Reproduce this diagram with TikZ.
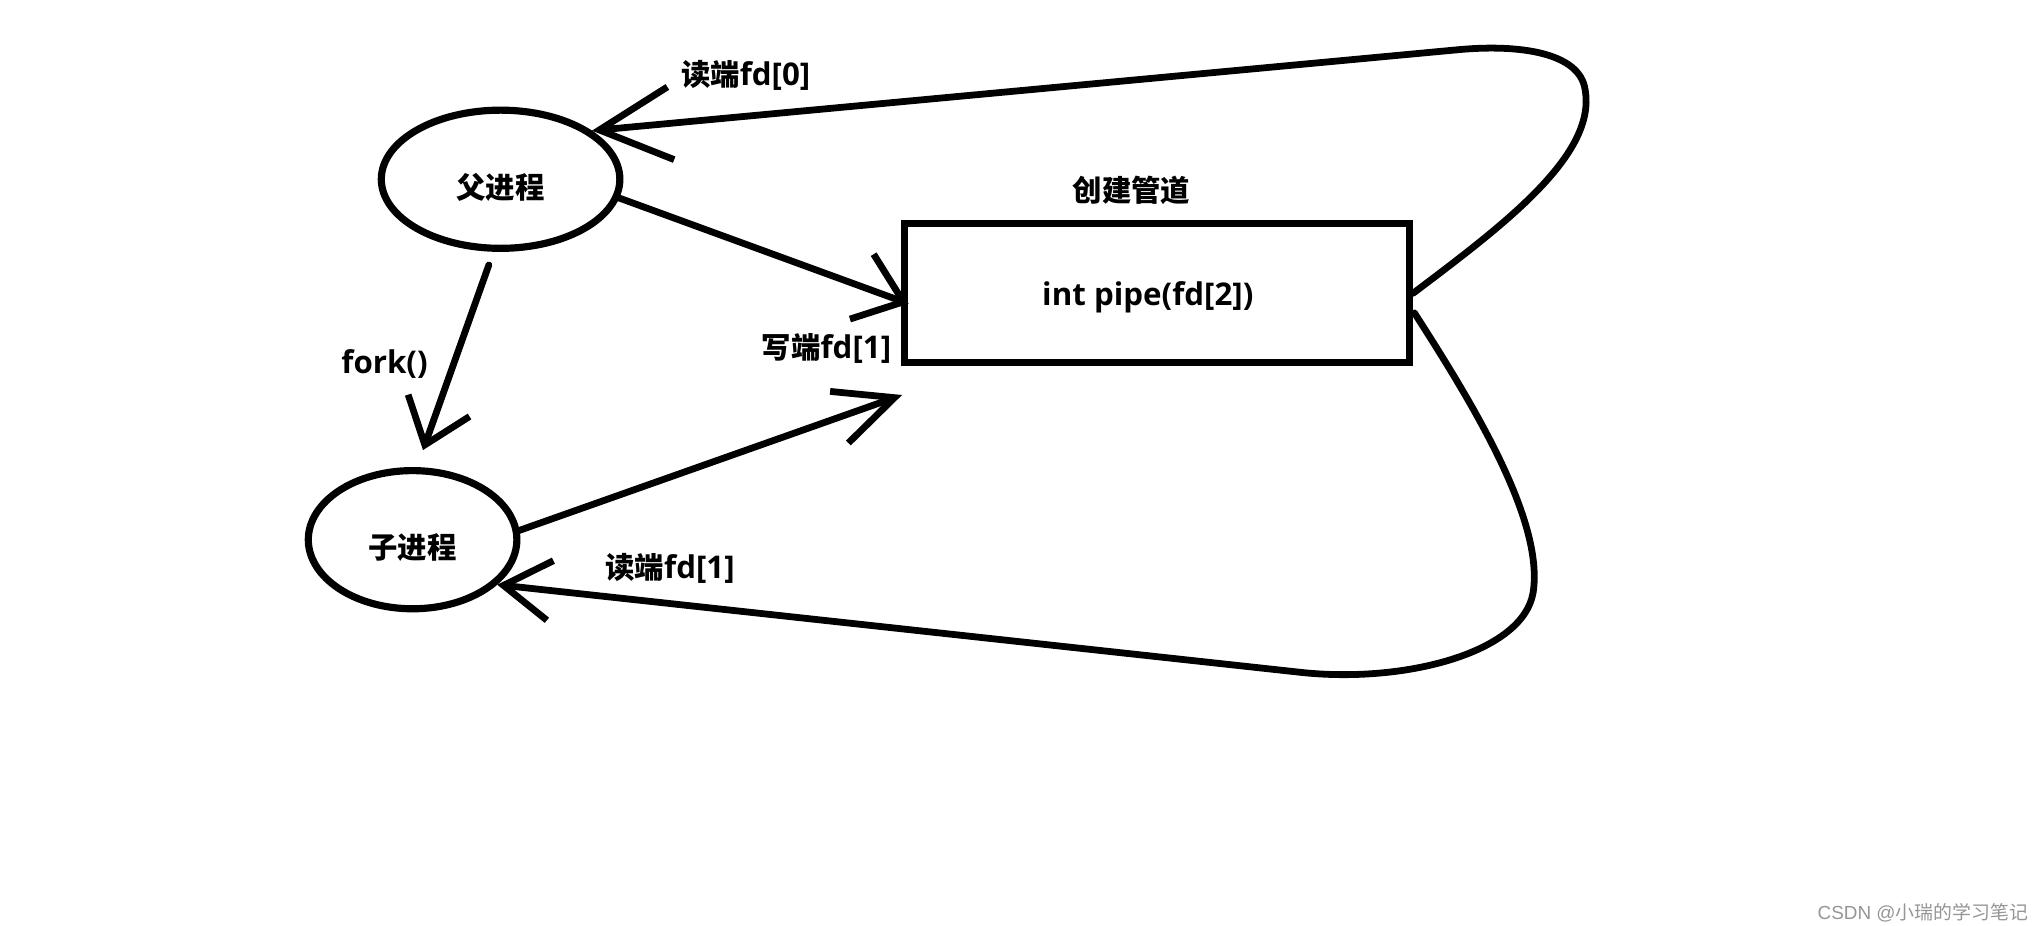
\documentclass[tikz,border=0pt]{standalone}
\usepackage{fontspec}
\setmainfont{Open Sans}
\newfontfamily\cjk{Noto Sans CJK SC}[Scale=0.94]
\newfontfamily\wmcjk{Noto Sans CJK SC}
\newfontfamily\wmlat{Liberation Sans}
\usetikzlibrary{arrows.meta,shapes.geometric,calc}
\definecolor{wmgray}{RGB}{150,150,150}
\begin{document}
\begin{tikzpicture}[x=1pt,y=-1pt,
  txt/.style={inner sep=0pt, font=\fontsize{24}{28}\selectfont\bfseries},
  proc/.style={draw, ellipse, line width=5.5pt, inner sep=0pt},
  pipebox/.style={draw, rectangle, line width=5.5pt, minimum width=387.5pt, minimum height=106.5pt, inner sep=0pt},
  conn/.style={line width=5.2pt, line cap=round, line join=round},
  barb/.style 2 args={-{Straight Barb[length=#1pt,width=#2pt]}},
  wm/.style={inner sep=0pt, text=wmgray, font=\fontsize{14.5}{16}\selectfont}
]
\fill[white] (0,0) rectangle (1568,710);
\useasboundingbox (0,0) rectangle (1568,710);

\node[proc, minimum width=183pt, minimum height=106pt,
      label={[txt,yshift=-6pt]center:{\cjk 父进程}}] (parent) at (384,137.5) {};
\node[proc, minimum width=160pt, minimum height=106pt,
      label={[txt,yshift=-6pt]center:{\cjk 子进程}}] (child) at (316.5,414) {};
\node[pipebox, label={[txt,xshift=-7pt,yshift=-3pt]center:int pipe(fd[2])}] (pipe) at (887.5,225) {};

\node[txt] (title) at (868,146) {\cjk 创建管道};
\node[txt] (lr0) at (572,57.5) {{\cjk 读端}fd[0]};
\node[txt] (fork) at (295,279) {fork()};
\node[txt] (lw1) at (634,267) {{\cjk 写端}fd[1]};
\node[txt] (lr1) at (514,436) {{\cjk 读端}fd[1]};
\node[wm] (wmark) at (1475,700) {{\wmlat CSDN @}{\wmcjk 小瑞的学习笔记}};

% fork
\draw[conn, barb={32}{50}] ($(parent.south)+(-9,10)$) -- ($(child.north)+(8,-13)$);
% parent -> pipe (write end)
\draw[conn, barb={34}{53}] (parent.-9) -- ($(pipe.west)+(6,8)$);
% child -> pipe
\draw[conn, barb={45}{42}] (child.5) -- ($(pipe.south west)+(1,22)$);
% pipe -> parent (read end fd[0])
\draw[conn, barb={55}{56}] (pipe.east) .. controls (1150,175) and (1225,120) .. (1216,69)
   .. controls (1212,40) and (1165,34) .. (1120,38) -- (parent.28);
% pipe -> child (read end fd[1])
\draw[conn, barb={36}{46}] ($(pipe.east)+(1,15)$) .. controls (1130,310) and (1185,400) .. (1176,455)
   .. controls (1168,500) and (1080,524) .. (1000,516) -- (child.-28);
\end{tikzpicture}
\end{document}
